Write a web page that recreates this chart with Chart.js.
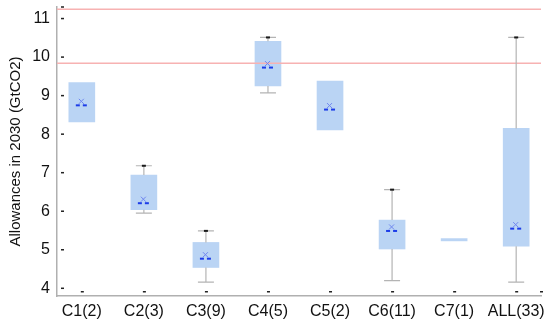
<!DOCTYPE html>
<html>
<head>
<meta charset="utf-8">
<script src="https://cdn.jsdelivr.net/npm/chart.js@4.4.0/dist/chart.umd.min.js"></script>
<style>
  html, body { margin: 0; padding: 0; background: #fff; }
  #wrap { width: 550px; height: 326px; }
</style>
</head>
<body>
<div id="wrap"><canvas id="grafico"></canvas></div>
<script>
// dados
const categorias = ['C1(2)', 'C2(3)', 'C3(9)', 'C4(5)', 'C5(2)', 'C6(11)', 'C7(1)', 'ALL(33)'];
const minimos = [null, 5.95, 4.16, 9.07, null, 4.20, null, 4.16];
const quartil1 = [8.32, 6.04, 4.54, 9.25, 8.11, 5.02, 5.23, 5.09];
const quartil3 = [9.34, 6.94, 5.19, 10.41, 9.38, 5.77, 5.29, 8.15];
const maximos = [null, 7.18, 5.49, 10.51, null, 6.56, null, 10.51];
const medias = [8.80, 6.26, 4.82, 9.78, 8.69, 5.54, null, 5.60];
const linhasRef = [11.24, 9.84];
const ticksY = [4, 5, 6, 7, 8, 9, 10, 11];

const fonte = "'Liberation Sans', Arial, sans-serif";

const extras = {
  id: 'extras',
  afterDatasetsDraw(chart) {
    const { ctx, chartArea, scales: { x, y } } = chart;
    ctx.save();

    // linhas de referência
    ctx.strokeStyle = '#f7b2b2';
    ctx.lineWidth = 1.5;
    linhasRef.forEach(v => {
      const py = y.getPixelForValue(v);
      ctx.beginPath();
      ctx.moveTo(chartArea.left, py);
      ctx.lineTo(chartArea.right, py);
      ctx.stroke();
    });

    categorias.forEach((c, i) => {
      const px = x.getPixelForValue(i);
      // bigodes
      if (minimos[i] != null) {
        const pMin = y.getPixelForValue(minimos[i]);
        const pMax = y.getPixelForValue(maximos[i]);
        const pQ1 = y.getPixelForValue(quartil1[i]);
        const pQ3 = y.getPixelForValue(quartil3[i]);
        ctx.strokeStyle = '#b4b4b4';
        ctx.lineWidth = 1.2;
        ctx.beginPath();
        ctx.moveTo(px, pQ1); ctx.lineTo(px, pMin);
        ctx.moveTo(px, pQ3); ctx.lineTo(px, pMax);
        ctx.moveTo(px - 8, pMin); ctx.lineTo(px + 8, pMin);
        ctx.moveTo(px - 8, pMax); ctx.lineTo(px + 8, pMax);
        ctx.stroke();
        ctx.fillStyle = '#1a1a1a';
        ctx.fillRect(px - 2, pMax - 1, 4, 2);
      }
      // marcador da média
      if (medias[i] != null) {
        const pm = y.getPixelForValue(medias[i]);
        ctx.strokeStyle = '#6f86f0';
        ctx.lineWidth = 1;
        ctx.beginPath();
        ctx.moveTo(px - 3, pm - 4.5); ctx.lineTo(px + 2, pm + 0.5);
        ctx.moveTo(px + 2, pm - 4.5); ctx.lineTo(px - 3, pm + 0.5);
        ctx.stroke();
        ctx.fillStyle = '#1c3ce8';
        ctx.fillRect(px - 6, pm + 1, 4, 2);
        ctx.fillRect(px + 1, pm + 1, 4, 2);
      }
      // tick interno do eixo x
      ctx.fillStyle = '#222';
      ctx.fillRect(px - 1, chartArea.bottom - 5, 3, 1.5);
    });

    // ticks internos do eixo y
    ticksY.concat([y.max]).forEach(v => {
      const py = y.getPixelForValue(v);
      ctx.fillRect(chartArea.left + 4, py - 0.75, 3, 1.5);
    });
    ctx.fillRect(chartArea.right - 1, chartArea.bottom - 5, 3, 1.5);

    ctx.restore();
  }
};

new Chart(document.getElementById('grafico'), {
  type: 'bar',
  data: {
    datasets: [{
      label: 'Allowances',
      data: categorias.map((c, i) => ({ x: i, y: [quartil1[i], quartil3[i]] })),
      backgroundColor: '#bad4f4',
      borderWidth: 0,
      barThickness: 26
    }]
  },
  options: {
    responsive: true,
    maintainAspectRatio: false,
    animation: false,
    layout: { padding: { top: 7, right: 9, left: 0, bottom: 0 } },
    plugins: { legend: { display: false }, tooltip: { enabled: false } },
    scales: {
      x: {
        type: 'linear',
        offset: false,
        min: -0.4,
        max: 7.4,
        afterBuildTicks: s => { s.ticks = categorias.map((c, i) => ({ value: i })); },
        afterFit: s => { s.height = 30; s.paddingLeft = 0; s.paddingRight = 0; },
        grid: { display: false, drawTicks: false, offset: false },
        border: { display: true, color: '#b0b0b0', width: 1.5 },
        ticks: {
          padding: 6,
          color: '#111',
          font: { family: fonte, size: 16 },
          maxRotation: 0,
          callback: v => categorias[v]
        }
      },
      y: {
        min: 3.8,
        max: 11.3,
        afterBuildTicks: s => { s.ticks = ticksY.map(v => ({ value: v })); },
        afterFit: s => { s.width = 57; s.paddingTop = 0; s.paddingBottom = 0; },
        grid: { display: false, drawTicks: false },
        border: { display: true, color: '#b0b0b0', width: 1.5 },
        ticks: {
          padding: 7,
          color: '#111',
          font: { family: fonte, size: 16 }
        },
        title: {
          display: true,
          text: 'Allowances in 2030 (GtCO2)',
          color: '#111',
          font: { family: fonte, size: 15 },
          padding: { top: 7, bottom: 0 }
        }
      }
    }
  },
  plugins: [extras]
});
</script>
</body>
</html>
